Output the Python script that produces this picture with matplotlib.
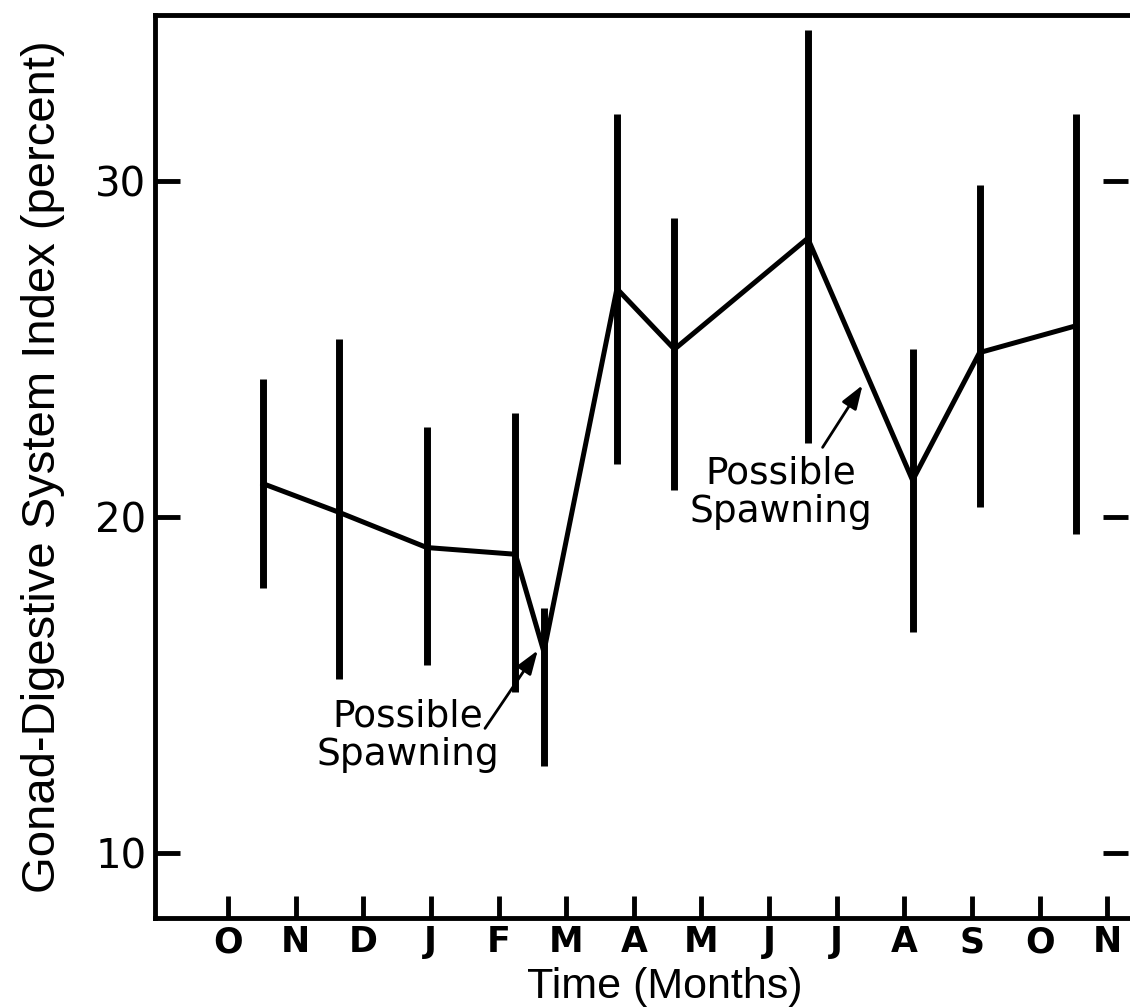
import matplotlib
matplotlib.use("Agg")
import matplotlib.pyplot as plt

plt.rcParams['font.family'] = ['Liberation Sans', 'DejaVu Sans']

# Month axis (Oct .. Nov of following year)
month_labels = ['O', 'N', 'D', 'J', 'F', 'M', 'A', 'M', 'J', 'J', 'A', 'S', 'O', 'N']
month_pos = list(range(len(month_labels)))

# Sampling dates (in month units from the first October tick)
sample_x = [0.52, 1.64, 2.94, 4.25, 4.67, 5.75, 6.60, 8.57, 10.12, 11.11, 12.54]
gdsi_mean = [21.0, 20.15, 19.1, 18.9, 16.0, 26.8, 25.0, 28.3, 21.1, 24.9, 25.7]
gdsi_high = [24.1, 25.3, 22.7, 23.1, 17.3, 32.0, 28.9, 34.5, 25.0, 29.9, 32.0]
gdsi_low = [17.9, 15.2, 15.6, 14.8, 12.6, 21.6, 20.8, 22.2, 16.6, 20.3, 19.5]

y_ticks = [10, 20, 30]

# annotation text anchors and arrow (tail -> head) in data units
note_text = 'Possible\nSpawning'
note_xy = [(2.66, 13.5), (8.17, 20.74)]
arrow_tail = [(3.80, 13.72), (8.79, 22.08)]
arrow_head = [(4.58, 16.04), (9.38, 23.93)]

fig = plt.figure(figsize=(11.3, 10.08), dpi=100)
ax = fig.add_axes([0.137, 0.089, 0.861, 0.896])

err_lo = [m - l for m, l in zip(gdsi_mean, gdsi_low)]
err_hi = [h - m for m, h in zip(gdsi_mean, gdsi_high)]
ax.errorbar(sample_x, gdsi_mean, yerr=[err_lo, err_hi], fmt='-', color='black',
            lw=3.6, elinewidth=5, capsize=0, solid_joinstyle='miter')

ax.set_xlim(-1.08, 13.3)
ax.set_ylim(8.07, 34.94)

ax.set_xticks(month_pos)
ax.set_xticklabels(month_labels, fontsize=25, fontweight='bold', family='DejaVu Sans')
ax.set_yticks(y_ticks)
ax.set_yticklabels([str(v) for v in y_ticks], fontsize=29, family='DejaVu Sans')

ax.tick_params(axis='x', direction='in', length=16, width=3.5, pad=5, top=False)
ax.tick_params(axis='y', direction='in', length=18, width=3.5, pad=6, right=True)

for side in ['left', 'bottom', 'top']:
    ax.spines[side].set_linewidth(3.5)
ax.spines['right'].set_visible(False)

ax.set_xlabel('Time (Months)', fontsize=31)
ax.xaxis.set_label_coords(0.524, -0.054, transform=ax.transAxes)
ax.xaxis.label.set_va('top')
ax.set_ylabel('Gonad-Digestive System Index (percent)', fontsize=34, labelpad=22)

for (tx, ty) in note_xy:
    ax.text(tx, ty, note_text, fontsize=27, family='DejaVu Sans', ha='center',
            va='center', linespacing=1.1)
for tail, head in zip(arrow_tail, arrow_head):
    ax.annotate('', xy=head, xytext=tail,
                arrowprops=dict(arrowstyle='-|>,head_length=0.8,head_width=0.28',
                                color='black', lw=2.0, shrinkA=0, shrinkB=0,
                                mutation_scale=18))

fig.savefig('out.png', dpi=100)
